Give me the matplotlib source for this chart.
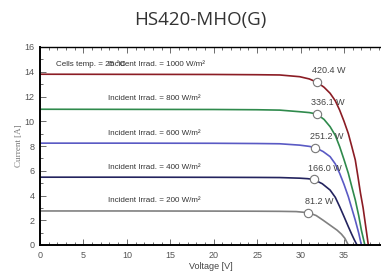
import matplotlib
matplotlib.use("Agg")
import matplotlib.pyplot as plt
from matplotlib.ticker import MultipleLocator

plt.rcParams['font.family'] = ['Liberation Sans', 'DejaVu Sans']

# Data
v1000 = [0, 10, 20, 25, 27.6, 29.9, 31.0, 31.9, 32.7, 33.4, 34.0, 34.5, 35.0, 35.5, 35.9, 36.3, 36.6, 36.9, 37.2, 37.4, 37.6, 37.8]
i1000 = [13.8, 13.79, 13.78, 13.76, 13.74, 13.6, 13.42, 13.15, 12.75, 12.26, 11.65, 10.9, 10.0, 9.0, 7.95, 6.87, 5.55, 4.18, 3.0, 2.0, 1.0, 0]
v800 = [0, 10, 20, 25, 27.6, 29.9, 31.0, 31.85, 32.7, 33.4, 34.0, 34.5, 35.0, 35.5, 35.9, 36.3, 36.7, 37.0, 37.2, 37.4]
i800 = [10.97, 10.96, 10.95, 10.93, 10.9, 10.77, 10.7, 10.59, 10.15, 9.56, 8.85, 7.95, 6.9, 5.79, 4.7, 3.64, 2.35, 1.2, 0.6, 0]
v600 = [0, 10, 20, 25, 27.6, 29.9, 31.0, 31.7, 32.6, 33.4, 34.0, 34.5, 35.0, 35.5, 35.9, 36.3, 36.7, 37.0]
i600 = [8.23, 8.23, 8.22, 8.2, 8.18, 8.07, 7.97, 7.87, 7.55, 7.14, 6.55, 5.79, 4.9, 3.9, 2.95, 2.0, 0.95, 0]
v400 = [0, 10, 20, 25, 27.6, 29.9, 30.8, 31.5, 32.5, 33.4, 34.0, 34.5, 35.0, 35.5, 35.9, 36.2, 36.5]
i400 = [5.48, 5.48, 5.47, 5.46, 5.45, 5.4, 5.36, 5.3, 4.95, 4.44, 3.85, 3.1, 2.3, 1.48, 0.85, 0.4, 0]
v200 = [0, 10, 20, 25, 27.6, 29.5, 30.9, 31.8, 32.6, 33.4, 34.2, 34.7, 35.1, 35.5]
i200 = [2.75, 2.75, 2.74, 2.73, 2.72, 2.7, 2.61, 2.38, 2.0, 1.6, 1.2, 0.88, 0.54, 0]

mpp_v = [31.9, 31.85, 31.7, 31.5, 30.9]
mpp_i = [13.15, 10.59, 7.87, 5.3, 2.61]
mpp_labels = ["420.4 W", "336.1 W", "251.2 W", "166.0 W", "81.2 W"]
irrad_labels = ["Incident Irrad. = 1000 W/m²", "Incident Irrad. = 800 W/m²",
                "Incident Irrad. = 600 W/m²", "Incident Irrad. = 400 W/m²",
                "Incident Irrad. = 200 W/m²"]
irrad_y = [14.6, 11.85, 9.0, 6.3, 3.57]
colors = ["#8b1c24", "#2f8a4c", "#5a5ac4", "#23235e", "#808080"]

curves = [(v1000, i1000), (v800, i800), (v600, i600), (v400, i400), (v200, i200)]

fig = plt.figure(figsize=(3.81, 2.75), dpi=100)
ax = fig.add_axes([40/381, 1 - 245/275, 1 - 40/381, (245 - 47)/275])

for (v, i), c in zip(curves, colors):
    ax.plot(v, i, color=c, lw=1.2, zorder=2, solid_joinstyle='round')

ax.plot(mpp_v, mpp_i, 'o', ms=6, mfc='white', mec='#777777', mew=0.8, zorder=3)

for x, y, lab in zip(mpp_v, mpp_i, mpp_labels):
    ax.text(x + 1.3, y + 0.55, lab, fontsize=6.5, color='#444444', ha='center', va='bottom')

for y, lab in zip(irrad_y, irrad_labels):
    ax.text(7.8, y, lab, fontsize=5.8, color='#333333', ha='left', va='center')
ax.text(1.8, 14.6, "Cells temp. = 25 °C", fontsize=5.8, color='#333333', ha='left', va='center')

ax.set_xlim(0, 39.26)
ax.set_ylim(0, 16)
ax.xaxis.set_major_locator(MultipleLocator(5))
ax.xaxis.set_minor_locator(MultipleLocator(1))
ax.yaxis.set_major_locator(MultipleLocator(2))
ax.yaxis.set_minor_locator(MultipleLocator(1))
ax.tick_params(which='both', direction='in', top=True, right=False, labelsize=6.5,
               labelcolor='#555555', color='#555555', width=0.6)
ax.tick_params(which='major', length=4, pad=4)
ax.tick_params(which='minor', length=2.5)
ax.spines['right'].set_visible(False)
for s in ['left', 'bottom']:
    ax.spines[s].set_linewidth(1.4)
ax.spines['top'].set_linewidth(1.0)

ax.set_xlabel("Voltage [V]", fontsize=6.5, color='#444444', labelpad=2)
ax.set_ylabel("Current [A]", fontsize=6.5, color='#777777', family='Liberation Serif', labelpad=1)

fig.text(200/381, 1 - 20/275, "HS420-MHO(G)", fontsize=13.5, color='#333333',
         family='Open Sans', ha='center', va='center')

fig.savefig("out.png", dpi=100)
